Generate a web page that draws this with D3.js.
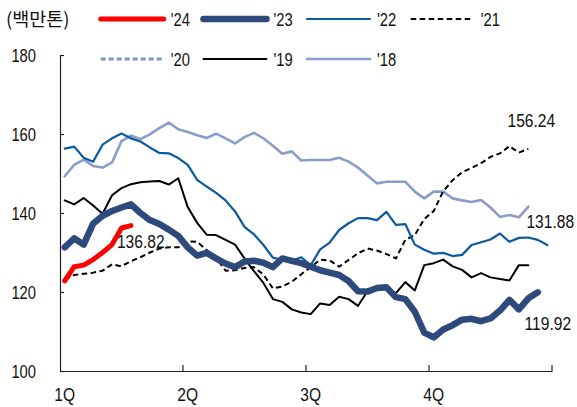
<!DOCTYPE html>
<html>
<head>
<meta charset="utf-8">
<script src="https://cdn.jsdelivr.net/npm/d3@7"></script>
<style>
  body { margin: 0; background: #fff; }
  svg { display: block; }
</style>
</head>
<body>
<svg id="chart" width="577" height="407"></svg>
<script>
// Weekly volume by year (million tons), one point per week
const weeks = d3.range(52);
const quarterLabels = ["1Q", "2Q", "3Q", "4Q"];
const quarterStarts = [0, 13, 26, 39];
const yTicks = [100, 120, 140, 160, 180];
const unitLabel = "(백만톤)";

const y2024 = [122.8, 126.4, 126.8, 128.2, 130.0, 132.0, 136.2, 136.82];

const y2023 = [131.3, 133.6, 132.0, 137.3, 139.3, 140.5, 141.4, 142.2, 140.0, 138.2,
  137.2, 135.8, 134.2, 131.3, 129.2, 129.9, 128.5, 127.2, 126.3, 127.7,
  127.9, 127.4, 126.3, 128.5, 127.9, 127.3, 126.4, 125.5, 124.9, 124.3,
  122.8, 120.2, 120.1, 121.0, 121.2, 118.7, 118.2, 115.0, 109.7, 108.5,
  110.5, 111.6, 113.0, 113.2, 112.6, 113.3, 115.3, 118.0, 115.6, 118.4,
  119.92];

const y2022 = [156.3, 156.8, 154.0, 153.0, 157.3, 158.9, 160.1, 158.9, 158.1, 156.6,
  155.2, 155.1, 153.9, 152.2, 148.4, 146.7, 145.1, 143.2, 140.4, 136.5,
  134.6, 131.9, 128.7, 128.1, 127.9, 128.8, 126.8, 130.8, 132.5, 135.7,
  137.4, 138.7, 138.7, 138.2, 140.3, 137.0, 137.2, 132.0, 130.7, 129.7,
  129.9, 129.1, 129.4, 131.9, 132.6, 133.3, 134.8, 132.7, 133.7, 133.8,
  133.2, 131.88];

const y2021 = [123.2, 124.3, 124.6, 124.9, 125.4, 127.0, 126.5, 127.8, 128.8, 130.0,
  131.0, 131.3, 131.3, 132.8, 132.7, 130.6, 128.6, 125.4, 125.5, 126.1,
  126.3, 124.4, 120.9, 121.4, 122.6, 124.5, 126.3, 128.2, 128.0, 126.4,
  128.1, 129.8, 131.0, 130.5, 129.6, 128.5, 133.2, 134.4, 138.5, 140.5,
  145.5, 148.3, 150.3, 151.4, 152.6, 154.2, 155.1, 156.9, 155.3, 156.24];

const y2020 = [];

const y2019 = [143.2, 142.2, 143.8, 141.9, 139.8, 144.5, 146.3, 147.3, 147.8, 148.0,
  148.1, 147.2, 148.8, 141.5, 137.5, 134.5, 134.4, 133.2, 132.0, 128.5,
  125.3, 122.3, 118.2, 117.5, 115.6, 114.8, 114.4, 117.1, 116.7, 118.8,
  118.2, 116.5, 120.2, 121.3, 120.9, 119.7, 122.5, 120.4, 126.8, 127.3,
  128.2, 126.5, 125.6, 123.7, 124.8, 123.7, 123.3, 122.9, 126.8, 126.8];

const y2018 = [149.3, 152.2, 153.5, 151.9, 151.5, 152.8, 158.2, 159.6, 158.7, 159.9,
  161.5, 162.9, 161.2, 160.5, 159.7, 159.0, 160.1, 158.9, 157.6, 159.2,
  160.3, 158.9, 157.0, 155.0, 155.6, 153.3, 153.4, 153.4, 153.4, 154.0,
  153.0, 151.5, 149.5, 147.5, 147.9, 147.9, 147.9, 145.4, 143.7, 145.4,
  145.4, 143.7, 143.2, 142.8, 143.3, 141.4, 139.0, 139.5, 138.9, 141.6];

const seriesNames = ["'24", "'23", "'22", "'21", "'20", "'19", "'18"];
const seriesValues = [y2024, y2023, y2022, y2021, y2020, y2019, y2018];

// Line styling per series, same order as the names
const styles = [
  { color: "#FF0000", width: 5,   dash: null },
  { color: "#2E4A7D", width: 6.5, dash: null },
  { color: "#0B5AA0", width: 2.2, dash: null },
  { color: "#000000", width: 2,   dash: "5.5,3.5" },
  { color: "#7F94C6", width: 3,   dash: "5,3" },
  { color: "#000000", width: 2,   dash: null },
  { color: "#8A9CC9", width: 2.6, dash: null }
];

const series = seriesNames.map((name, i) => ({ name, values: seriesValues[i], ...styles[i] }));

const svg = d3.select("#chart");
const narrow = "Liberation Sans, Arial, sans-serif";
const squeeze = 0.82;

const x = d3.scaleBand().domain(weeks).range([60, 552]).padding(0);
const px = i => x(i) + x.bandwidth() / 2;
const y = d3.scaleLinear().domain([100, 180]).range([371, 55]);

// Y axis: ticks point into the plot, labels set well to the left
const yAxis = svg.append("g")
  .attr("transform", `translate(60,0)`)
  .call(d3.axisLeft(y).tickValues(yTicks).tickSizeInner(-4).tickSizeOuter(0).tickPadding(24));
yAxis.select(".domain").attr("stroke", "#222").attr("stroke-width", 1.2);
yAxis.selectAll(".tick line").attr("stroke", "#222").attr("stroke-width", 1.2);
yAxis.selectAll(".tick text")
  .attr("x", 0)
  .attr("dy", "0.38em")
  .attr("transform", `translate(-24,0) scale(${squeeze},1)`)
  .attr("fill", "#111")
  .style("font-family", narrow)
  .style("font-size", "18px");

// X axis: quarter labels sit on the first week of each quarter
const xAxis = svg.append("g")
  .attr("transform", `translate(0,371)`)
  .call(d3.axisBottom(x).tickValues(quarterStarts).tickFormat((d, i) => quarterLabels[i]).tickSize(0).tickPadding(17));
xAxis.select(".domain").attr("stroke", "#222").attr("stroke-width", 1.2);
xAxis.selectAll(".tick text")
  .attr("y", 0)
  .attr("transform", `translate(0,17) scale(${squeeze},1)`)
  .attr("fill", "#111")
  .style("font-family", narrow)
  .style("font-size", "19px");

// Quarter boundary tick marks, drawn upward from the axis
const edge = d => d < weeks.length ? x(d) : x.range()[1];
xAxis.selectAll("line.qtick")
  .data([13, 26, 39, 52])
  .join("line")
  .attr("class", "qtick")
  .attr("x1", d => edge(d)).attr("x2", d => edge(d))
  .attr("y1", 0).attr("y2", -6)
  .attr("stroke", "#222").attr("stroke-width", 1.2);

// Lines, oldest year at the back
const line = d3.line().x((d, i) => px(i)).y(d => y(d));
svg.append("g").selectAll("path")
  .data(series.slice().reverse().filter(s => s.values.length))
  .join("path")
  .attr("d", s => line(s.values))
  .attr("fill", "none")
  .attr("stroke", s => s.color)
  .attr("stroke-width", s => s.width)
  .attr("stroke-dasharray", s => s.dash)
  .attr("stroke-linejoin", "round")
  .attr("stroke-linecap", s => s.dash ? "butt" : "round");

// Latest value labels
const fmt = d3.format(".2f");
const endLabels = [
  { name: "'24", dx: -14, dy: 22.5, anchor: "start" },
  { name: "'21", dx: 3,   dy: -22,  anchor: "middle" },
  { name: "'22", dx: 3,   dy: -17.5, anchor: "middle" },
  { name: "'23", dx: 10,  dy: 37.6, anchor: "middle" }
];
svg.append("g").selectAll("text")
  .data(endLabels)
  .join("text")
  .each(function (d) {
    const s = series.find(t => t.name === d.name);
    const last = s.values.length - 1;
    d3.select(this)
      .attr("transform", `translate(${px(last) + d.dx},${y(s.values[last]) + d.dy}) scale(${squeeze},1)`)
      .attr("text-anchor", d.anchor)
      .text(fmt(s.values[last]));
  })
  .attr("fill", "#111")
  .style("font-family", narrow)
  .style("font-size", "19px");

// Unit label
svg.append("text")
  .attr("x", 6).attr("y", 25.5)
  .attr("fill", "#111")
  .style("font-family", "'Noto Sans CJK KR', sans-serif")
  .style("font-size", "18.5px")
  .text(unitLabel);

// Legend: two rows, four columns
const legendCols = [100.7, 203.5, 307, 410.7];
const legendRows = [19, 59];
const legend = svg.append("g").selectAll("g")
  .data(series)
  .join("g")
  .attr("transform", (s, i) => `translate(${legendCols[i % 4]},${legendRows[Math.floor(i / 4)]})`);
legend.append("line")
  .attr("x1", 0).attr("x2", 63).attr("y1", 0).attr("y2", 0)
  .attr("stroke", s => s.color)
  .attr("stroke-width", s => s.width)
  .attr("stroke-dasharray", s => s.dash)
  .attr("stroke-linecap", s => s.dash ? "butt" : "round");
legend.append("text")
  .attr("transform", `translate(70,6.5) scale(${squeeze},1)`)
  .attr("fill", "#111")
  .style("font-family", narrow)
  .style("font-size", "18px")
  .text(s => s.name);
</script>
</body>
</html>
